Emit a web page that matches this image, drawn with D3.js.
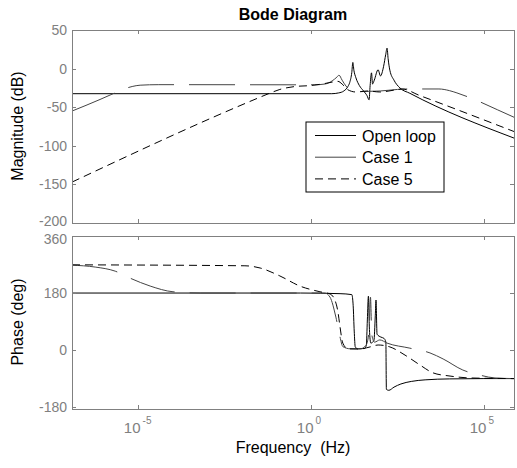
<!DOCTYPE html>
<meta charset="utf-8">
<style>
 body { margin: 0; background: #fff; }
 svg { font-family: Arial, "Liberation Sans", sans-serif; background: #fff; }
 .axis line { stroke: #808080; shape-rendering: crispEdges; }
 .axis text { fill: #808080; font-size: 15px; }
 .frame { fill: none; stroke: #808080; shape-rendering: crispEdges; }
</style>
<body>
<svg width="517" height="468"></svg>
<script src="https://cdn.jsdelivr.net/npm/d3@7"></script>
<script>
// ticks and names
var magTicks = [-200, -150, -100, -50, 0, 50];
var phaseTicks = [-180, 0, 180, 360];
var freqTicks = [1e-5, 1, 1e5];
var freqExp = ["-5", "0", "5"];
var seriesNames = ["Open loop", "Case 1", "Case 5"];

// [log10(f), dB]
var openLoopMag = [[-6.91,-32.5],[0.6,-32.5],[0.8,-31.5],[0.95,-29],[1.07,-23],[1.12,-18],[1.18,-5],[1.21,8],[1.24,-2],[1.3,-12],
  [1.4,-22],[1.52,-29],[1.62,-35],[1.68,-40.5],[1.71,-22],[1.75,-5.5],[1.78,-20],[1.83,-15],[1.94,-1.5],[2.01,-9.5],
  [2.1,3],[2.16,18],[2.2,26.5],[2.23,13],[2.28,-2],[2.4,-15],[2.57,-25],[2.86,-32],[5.87,-90]];
var case1Mag = [[-6.91,-55],[-6.1,-40],[-5.72,-32.5],[-5.38,-26],[-5.17,-23.2],[-4.94,-21.5],[-4.4,-20.8],[0.1,-21],[0.4,-20],
  [0.61,-16],[0.75,-11],[0.81,-8.5],[0.9,-15],[1.01,-22.5],[1.13,-27.5],[1.3,-30],[1.6,-29.5],[2.0,-29],[2.5,-27],
  [2.8,-26.4],[3.7,-26.4],[4.0,-28.5],[4.22,-31.5],[4.83,-42],[5.4,-53.5],[5.87,-63]];
var case5Mag = [[-6.91,-147],[-1.47,-37],[-1.2,-32],[-0.9,-27],[-0.46,-23.2],[-0.03,-22],[0.32,-20],[0.61,-17.5],[0.78,-16.5],
  [0.9,-20],[1.07,-27.5],[1.3,-30.3],[1.65,-29],[1.99,-30.3],[2.43,-27.7],[2.63,-26.4],[3.15,-35],[5.87,-81.5]];

// [log10(f), deg]
var openLoopPhase = [[-6.91,180],[-0.3,180],[0.84,178],[1.18,175],[1.22,140],[1.25,60],[1.28,10],[1.35,4],[1.55,5],[1.6,15],
  [1.63,95],[1.66,170],[1.69,65],[1.73,22],[1.82,30],[1.86,110],[1.88,158],[1.91,50],[2.02,41],[2.11,37],[2.165,25],
  [2.18,-124],[2.25,-127],[2.4,-117],[2.6,-107],[2.9,-99],[3.3,-94],[4.0,-91],[5.0,-90],[5.87,-90]];
var case1Phase = [[-6.91,268],[-6.24,262],[-5.66,249],[-5.23,227],[-4.65,202],[-3.99,184],[-3.2,180],[0.4,180],[0.55,167],
  [0.72,104],[0.84,41],[0.92,11],[1.13,4],[1.42,3.5],[1.59,15],[1.68,60],[1.72,167],[1.76,47],[1.84,25],[1.99,32],
  [2.2,22],[2.86,6],[3.44,-9],[3.82,-28],[4.39,-63],[4.88,-79],[5.32,-88],[5.87,-90]];
var case5Phase = [[-6.91,269],[-1.91,266],[-1.47,259],[-0.9,234],[-0.32,202],[0.26,184],[0.55,177],[0.69,158],[0.78,120],
  [0.84,73],[0.92,22],[1.07,4],[1.42,3.5],[1.71,10],[1.94,16],[2.28,10],[2.72,-16],[3.15,-47],[3.53,-72],[4.02,-82],
  [4.6,-88],[5.87,-90]];

var styles = [
  {stroke: "#000", dash: null},
  {stroke: "#444", dash: "46,15"},
  {stroke: "#000", dash: "8,5"}
];

var svg = d3.select("svg");
var left = 72, right = 514;

var x = d3.scaleLog()
  .domain([Math.pow(10, -6.91), Math.pow(10, 5.87)])
  .range([left, right]);
var yMag = d3.scaleLinear().domain([-200, 50]).range([223, 30]);
var yPh = d3.scaleLinear().domain([-186, 360]).range([409, 236]);

// lowest magnitude label and highest phase label sit close: nudge them apart
var labelShift = {"-200": -2, "360": 3};

function panel(y, ticks, series, id, showX) {
  var top = y.range()[1], bottom = y.range()[0];
  svg.append("clipPath").attr("id", id)
    .append("rect").attr("x", left).attr("y", top).attr("width", right - left).attr("height", bottom - top);

  var line = d3.line()
    .curve(d3.curveMonotoneX)
    .x(function(d) { return x(Math.pow(10, d[0])); })
    .y(function(d) { return y(d[1]); });

  var g = svg.append("g").attr("clip-path", "url(#" + id + ")");
  series.forEach(function(s, i) {
    g.append("path")
      .datum(s)
      .attr("d", line)
      .attr("fill", "none")
      .attr("stroke", styles[i].stroke)
      .attr("stroke-width", 1)
      .attr("stroke-dasharray", styles[i].dash);
  });

  svg.append("g").attr("class", "axis")
    .attr("transform", "translate(" + left + ",0)")
    .call(d3.axisLeft(y).tickValues(ticks).tickSize(-4).tickPadding(5).tickFormat(function(d) { return String(d); }))
    .call(function(a) {
      a.select(".domain").remove();
      a.selectAll(".tick text").style("font-size", "14px")
        .attr("y", function(d) { return labelShift[d] || 0; });
    });
  svg.append("g").attr("class", "axis")
    .attr("transform", "translate(" + right + ",0)")
    .call(d3.axisRight(y).tickValues(ticks).tickSize(-4).tickFormat(""))
    .call(function(a) { a.select(".domain").remove(); });
  svg.append("g").attr("class", "axis")
    .attr("transform", "translate(0," + top + ")")
    .call(d3.axisTop(x).tickValues(freqTicks).tickSize(-4).tickFormat(""))
    .call(function(a) { a.select(".domain").remove(); });
  var bx = svg.append("g").attr("class", "axis")
    .attr("transform", "translate(0," + bottom + ")")
    .call(d3.axisBottom(x).tickValues(freqTicks).tickSize(-4).tickFormat(""))
    .call(function(a) { a.select(".domain").remove(); });

  if (showX) {
    bx.selectAll(".tick").each(function(d, i) {
      var t = d3.select(this);
      t.append("text").attr("y", 24).attr("x", 2).attr("text-anchor", "end").text("10");
      t.append("text").attr("y", 15).attr("x", 4).attr("text-anchor", "start")
        .style("font-size", "10px").text(freqExp[i]);
    });
  }

  svg.append("rect").attr("class", "frame")
    .attr("x", left).attr("y", top).attr("width", right - left).attr("height", bottom - top);
}

panel(yMag, magTicks, [openLoopMag, case1Mag, case5Mag], "clipMag", false);
panel(yPh, phaseTicks, [openLoopPhase, case1Phase, case5Phase], "clipPh", true);

// titles
svg.append("text").attr("x", 293).attr("y", 20).attr("text-anchor", "middle")
  .style("font-size", "16px").style("font-weight", "bold").text("Bode Diagram");
svg.append("text").attr("x", 293).attr("y", 453).attr("text-anchor", "middle")
  .style("font-size", "16px").attr("xml:space", "preserve").text("Frequency  (Hz)");
svg.append("text").attr("transform", "translate(23,126) rotate(-90)").attr("text-anchor", "middle")
  .style("font-size", "16px").text("Magnitude (dB)");
svg.append("text").attr("transform", "translate(23,322) rotate(-90)").attr("text-anchor", "middle")
  .style("font-size", "16px").text("Phase (deg)");

// legend
var lg = svg.append("g").attr("transform", "translate(306,122)");
lg.append("rect").attr("width", 138).attr("height", 70).attr("fill", "#fff").attr("stroke", "#000");
seriesNames.forEach(function(n, i) {
  var yy = 13.5 + i * 21.7;
  lg.append("line").attr("x1", 9).attr("x2", 50).attr("y1", yy).attr("y2", yy)
    .attr("stroke", styles[i].stroke).attr("stroke-dasharray", styles[i].dash);
  lg.append("text").attr("x", 56).attr("y", yy + 6).style("font-size", "16px").text(n);
});
</script>
</body>
